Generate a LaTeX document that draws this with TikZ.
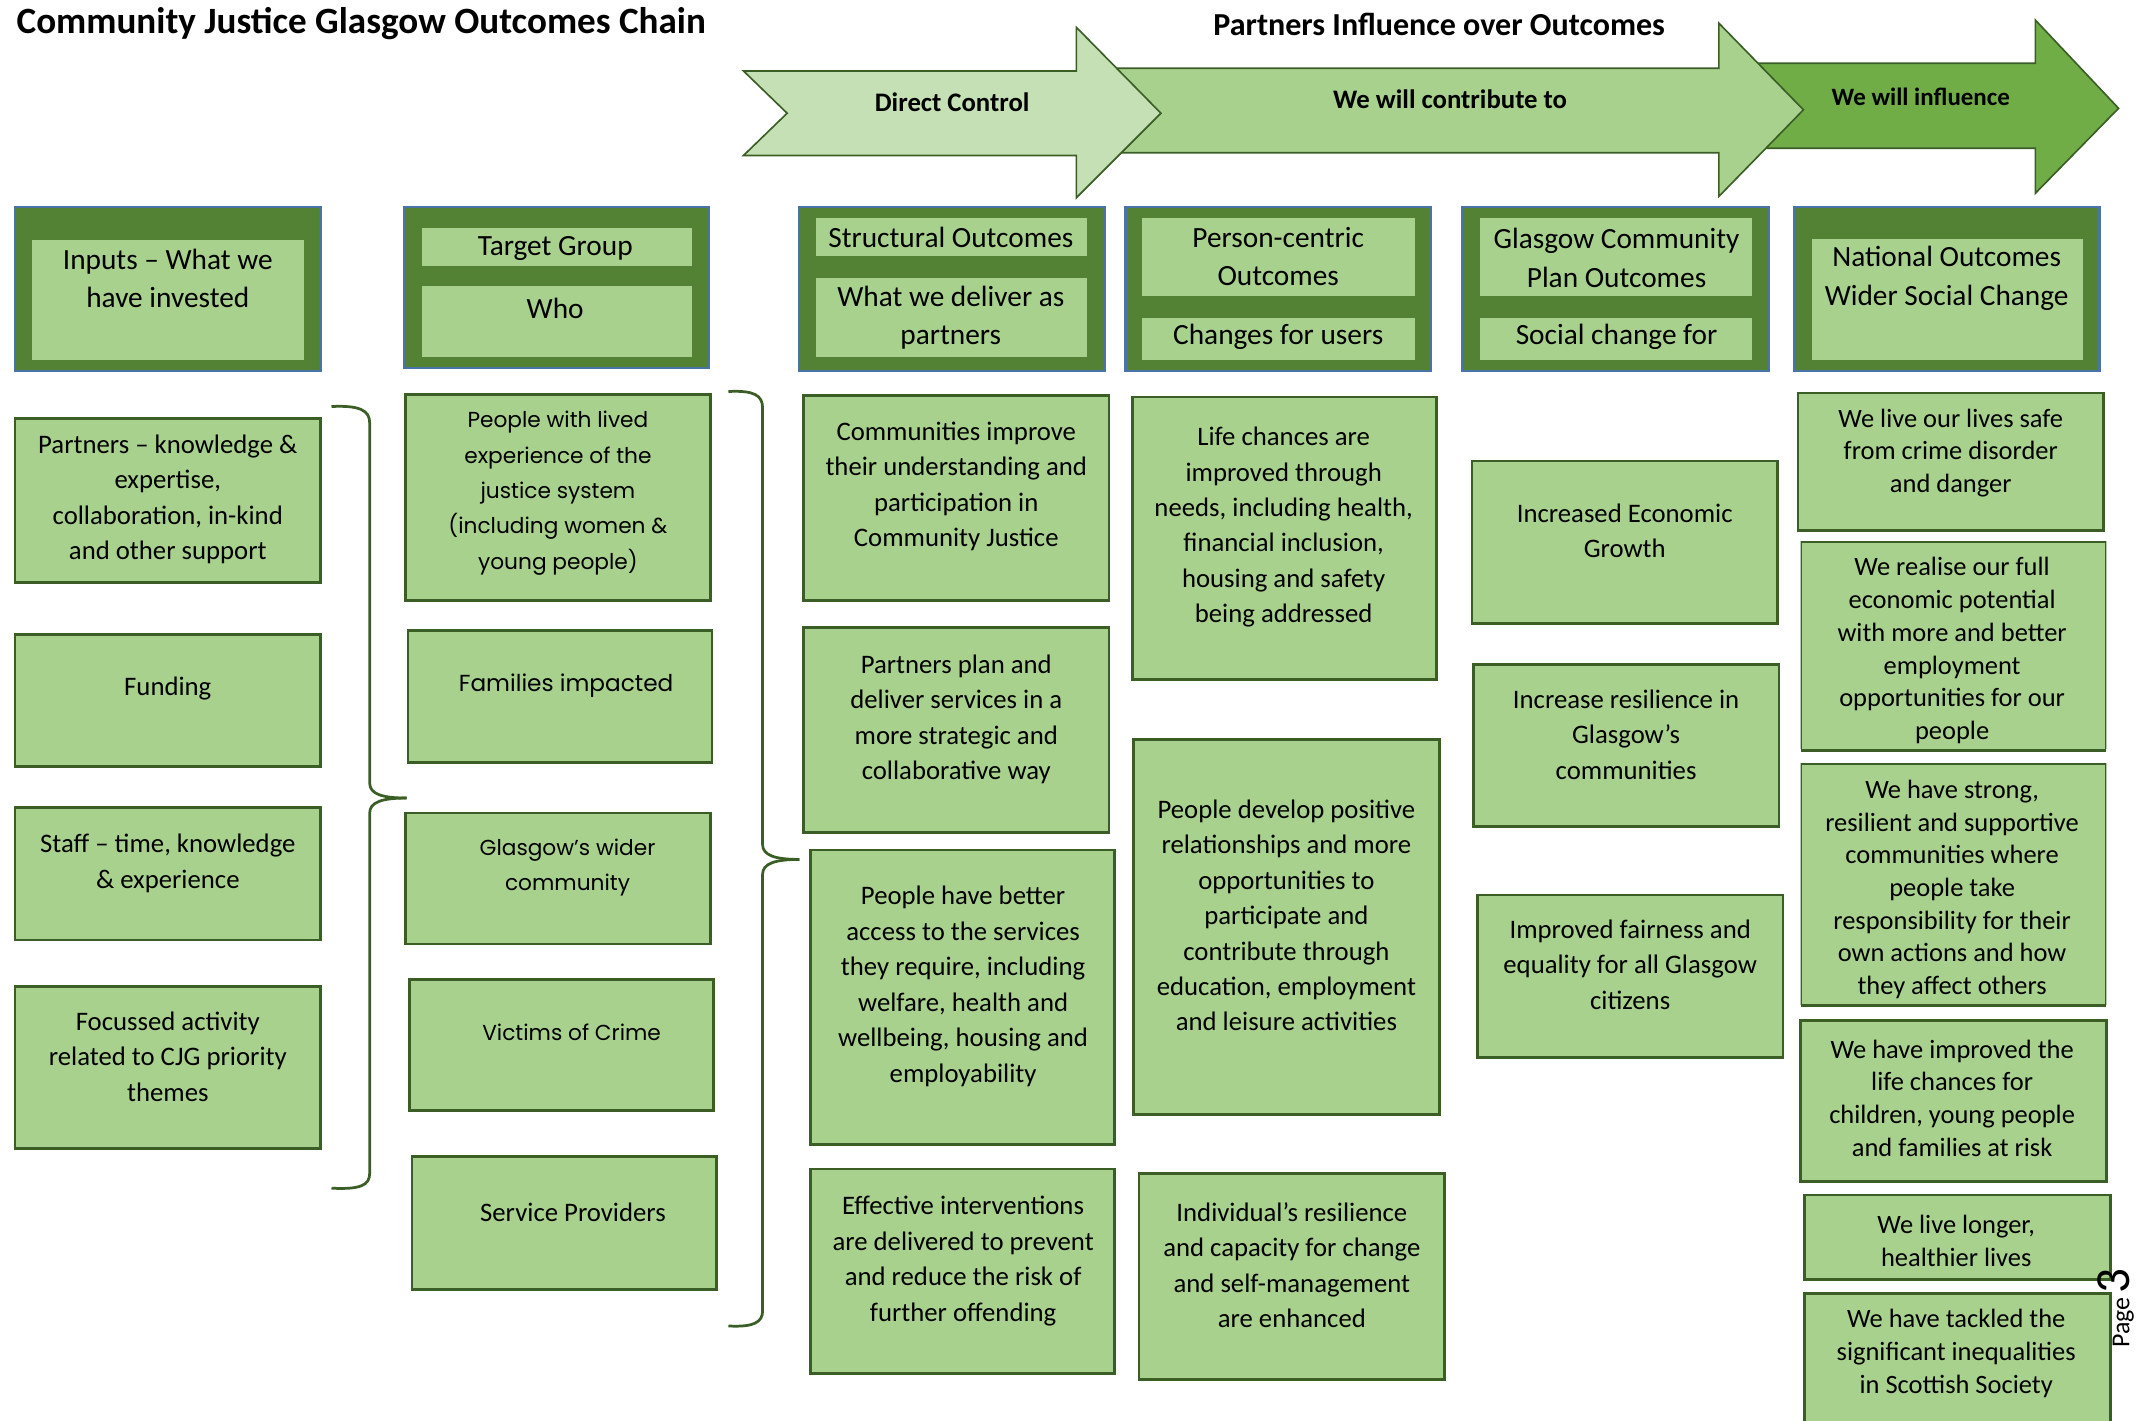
\documentclass[tikz,border=0pt]{standalone}
\usepackage{fontspec}
\setmainfont[Numbers=Lining]{Carlito}
\newfontfamily\gothic{Poppins}
\definecolor{lg}{HTML}{A9D18E}
\definecolor{llg}{HTML}{C5E0B4}
\definecolor{mg}{HTML}{70AD47}
\definecolor{dg}{HTML}{548235}
\definecolor{bord}{HTML}{3B5E27}
\definecolor{hblue}{HTML}{4A74A8}
\tikzset{
  box/.style={draw=bord, fill=lg, line width=2pt, inner sep=0pt, outer sep=0pt},
  hdr/.style={draw=hblue, fill=dg, line width=1.6pt, inner sep=0pt, outer sep=0pt},
  inr/.style={fill=lg, draw=none, inner sep=0pt, outer sep=0pt},
  txt/.style={align=center, font=\fontsize{19.6}{26}\selectfont, inner sep=0pt},
  txtb/.style={align=center, font=\fontsize{19.4}{24}\selectfont, inner sep=0pt},
  gtxt/.style={align=center, font=\gothic\fontsize{15.9}{26}\selectfont, inner sep=0pt},
  htxt/.style={align=center, font=\fontsize{21.5}{28}\selectfont, inner sep=0pt},
  atxt/.style={font=\bfseries\fontsize{19.6}{22}\selectfont, inner sep=0pt},
  arr/.style={draw=bord, line width=1.2pt, line join=miter},
  brc/.style={draw=bord, line width=2pt}
}
\newcommand\bx[9][txt]{%
  \node[box, minimum width={#5-#3}, minimum height={#6-#4}] (#2) at ({(#3+#5)/2},{(#4+#6)/2}) {};
  \node[#1] (#2t) at (#7,#8) {#9};}
\newcommand\hb[5]{%
  \node[hdr, minimum width={#4-#2}, minimum height={#5-#3}] (#1) at ({(#2+#4)/2},{(#3+#5)/2}) {};}
\newcommand\ib[8]{%
  \node[inr, minimum width={#4-#2}, minimum height={#5-#3}] (#1) at ({(#2+#4)/2},{(#3+#5)/2}) {};
  \node[htxt] (#1t) at (#6,#7) {#8};}
\begin{document}
\begin{tikzpicture}[x=1pt,y=-1pt]
\useasboundingbox (0,0) rectangle (1568,1041);
\clip (0,0) rectangle (1568,1041);
\fill[white] (0,0) rectangle (1568,1041);

% titles
\node[anchor=west, inner sep=0pt, font=\bfseries\fontsize{27.2}{32}\selectfont] (title) at (12,17) {Community Justice Glasgow Outcomes Chain};
\node[inner sep=0pt, font=\bfseries\fontsize{23.5}{28}\selectfont] (pio) at (1055,18) {Partners Influence over Outcomes};

% arrows
\draw[arr, fill=mg] (1275,46.4) -- (1492,46.4) -- (1492,14.7) -- (1553,79.4) -- (1492,141.7) -- (1492,108.7) -- (1275,108.7) -- cycle;
\draw[arr, fill=lg] (800,50) -- (1260,50) -- (1260,17) -- (1322,80.5) -- (1260,144) -- (1260,112) -- (800,112) -- cycle;
\draw[arr, fill=llg] (545,52) -- (789,52) -- (789,20) -- (851,83) -- (789,145) -- (789,114) -- (545,114) -- (577,83) -- cycle;
\node[atxt] (a1) at (698,75) {Direct Control};
\node[atxt] (a2) at (1063,73) {We will contribute to};
\node[atxt, font=\bfseries\fontsize{18.3}{22}\selectfont] (a3) at (1408,71) {We will influence};

% header boxes
\hb{h1}{11}{152}{235}{272}
\ib{h1a}{23.5}{176}{223}{264}{123}{204}{Inputs – What we\\have invested}
\hb{h2}{296}{152}{520}{270}
\ib{h2a}{309}{167}{507}{195}{407}{182}{Target Group}
\ib{h2b}{309}{210}{507}{262}{407}{226}{Who}
\hb{h3}{586}{152}{810}{272}
\ib{h3a}{598}{160}{797}{188}{697}{174}{Structural Outcomes}
\ib{h3b}{598}{204}{797}{262}{697}{233}{What we deliver as\\partners}
\hb{h4}{825}{152}{1049}{272}
\ib{h4a}{837}{160}{1037}{217}{937}{188}{Person-centric\\Outcomes}
\ib{h4b}{837}{233}{1037}{264}{937}{247}{Changes for users}
\hb{h5}{1072}{152}{1297}{272}
\ib{h5a}{1085}{160}{1284}{217}{1185}{189}{Glasgow Community\\Plan Outcomes}
\ib{h5b}{1085}{233}{1284}{264}{1185}{247}{Social change for}
\hb{h6}{1315}{152}{1539}{272}
\ib{h6a}{1328}{175}{1527}{264}{1427}{204}{National Outcomes\\Wider Social Change}

% column 1
\bx{c1a}{11}{307}{235}{427}{123}{366}{Partners – knowledge \&\\expertise,\\collaboration, in-kind\\and other support}
\bx{c1b}{11}{465}{235}{562}{123}{505}{Funding}
\bx{c1c}{11}{592}{235}{689}{123}{633}{Staff – time, knowledge\\\& experience}
\bx{c1d}{11}{723}{235}{842}{123}{774.5}{Focussed activity\\related to CJG priority\\themes}

% column 2
\bx[gtxt]{c2a}{297}{289}{521}{440}{409}{361.5}{People with lived\\experience of the\\justice system\\(including women \&\\young people)}
\bx[gtxt]{c2b}{299}{462}{522}{559}{415}{503}{\fontsize{17}{26}\selectfont Families impacted}
\bx[gtxt]{c2c}{297}{596}{521}{692}{416}{636}{Glasgow’s wider\\community}
\bx[gtxt]{c2d}{300}{718}{523}{814}{419}{757}{Victims of Crime}
\bx{c2e}{302}{848}{525}{945}{420}{889}{Service Providers}

% column 3
\bx{c3a}{589}{290}{813}{440}{701}{356.5}{Communities improve\\their understanding and\\participation in\\Community Justice}
\bx{c3b}{589}{460}{813}{610}{701}{527.5}{Partners plan and\\deliver services in a\\more strategic and\\collaborative way}
\bx{c3c}{594}{623}{817}{839}{706}{723}{People have better\\access to the services\\they require, including\\welfare, health and\\wellbeing, housing and\\employability}
\bx{c3d}{594}{857}{817}{1007}{706}{924.5}{Effective interventions\\are delivered to prevent\\and reduce the risk of\\further offending}

% column 4
\bx{c4a}{830}{291}{1053}{498}{941}{386.5}{Life chances are\\improved through\\needs, including health,\\financial inclusion,\\housing and safety\\being addressed}
\bx{c4b}{831}{542}{1055}{817}{943}{671}{People develop positive\\relationships and more\\opportunities to\\participate and\\contribute through\\education, employment\\and leisure activities}
\bx{c4c}{835}{860}{1059}{1011}{947}{927.5}{Individual’s resilience\\and capacity for change\\and self-management\\are enhanced}

% column 5
\bx{c5a}{1079}{338}{1303}{457}{1191}{389}{Increased Economic\\Growth}
\bx{c5b}{1080}{487}{1304}{606}{1192}{538.5}{Increase resilience in\\Glasgow’s\\communities}
\bx{c5c}{1083}{656}{1307}{775}{1195}{707}{Improved fairness and\\equality for all Glasgow\\citizens}

% column 6
\bx[txtb]{c6a}{1318}{288}{1542}{389}{1430}{332}{We live our lives safe\\from crime disorder\\and danger}
\begin{scope}
\clip (1320,397) rectangle (1544,549);
\bx[txtb]{c6b}{1320}{397}{1544}{550}{1431}{477}{We realise our full\\economic potential\\with more and better\\employment\\opportunities for our\\people}
\end{scope}
\draw[bord, line width=2pt] (c6b.south west) -- (c6b.south east);
\begin{scope}
\clip (1320,559) rectangle (1544,736);
\bx[txtb]{c6c}{1320}{560}{1544}{737}{1431}{652}{We have strong,\\resilient and supportive\\communities where\\people take\\responsibility for their\\own actions and how\\they affect others}
\end{scope}
\draw[bord, line width=2pt] (c6c.south west) -- (c6c.south east);
\bx[txtb]{c6d}{1320}{748}{1544}{866}{1431}{805}{We have improved the\\life chances for\\children, young people\\and families at risk}
\bx[txtb]{c6e}{1323}{876}{1547}{938}{1434}{909.5}{We live longer,\\healthier lives}
\bx[txtb]{c6f}{1323}{948}{1547}{1060}{1434}{992}{We have tackled the\\significant inequalities\\in Scottish Society}

% braces
\draw[brc] (243,298) .. controls (264,297) and (271,301) .. (271,310) -- (271,574) .. controls (271,582) and (280,585) .. (298,585);
\draw[brc] (298,585) .. controls (280,585) and (271,588) .. (271,596) -- (271,860) .. controls (271,869) and (264,872) .. (243,871);
\draw[brc] (534,287) .. controls (553,286) and (559,290) .. (559,299) -- (559,619) .. controls (559,627) and (568,630) .. (586,630);
\draw[brc] (586,630) .. controls (568,630) and (559,633) .. (559,641) -- (559,961) .. controls (559,969) and (553,973) .. (534,972);

% page number
\node[rotate=90, anchor=base west, inner sep=0pt] (pg) at (1561,988) {\fontsize{19}{19}\selectfont Page\,\fontsize{36}{36}\selectfont 3};
\end{tikzpicture}
\end{document}
